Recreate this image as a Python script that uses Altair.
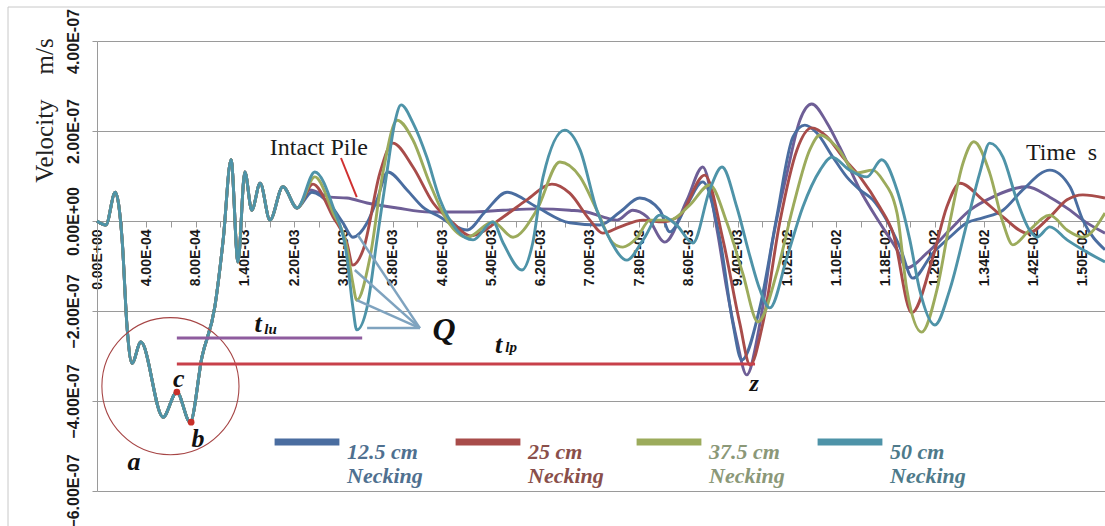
import json
import altair as alt
import pandas as pd

# ---------------- data ----------------
X_LABELS = ["0.00E+00", "4.00E-04", "8.00E-04", "1.40E-03", "2.20E-03", "3.00E-03",
            "3.80E-03", "4.60E-03", "5.40E-03", "6.20E-03", "7.00E-03", "7.80E-03",
            "8.60E-03", "9.40E-03", "1.02E-02", "1.10E-02", "1.18E-02", "1.26E-02",
            "1.34E-02", "1.42E-02", "1.50E-02"]
Y_TICKS = [-6e-7, -4e-7, -2e-7, 0.0, 2e-7, 4e-7]
SERIES = ["Intact Pile", "12.5 cm", "25 cm", "37.5 cm", "50 cm"]
LEGEND_SERIES = ["12.5 cm", "25 cm", "37.5 cm", "50 cm"]
UNIT = 1e-7  # velocity values below are in units of 1e-7 m/s

# x = position along the time (category) axis, label index units
common_t = [0, 0.18, 0.37, 0.51, 0.61, 0.71, 0.89, 1.34, 1.62, 1.89, 2.13, 2.39, 2.56,
            2.72, 2.86, 3.00, 3.14, 3.31, 3.51, 3.77, 4.06]
common_v = [0.0, -0.09, 0.64, -0.42, -2.36, -3.16, -2.69, -4.36, -3.80, -4.47, -3.02,
            -1.91, -0.42, 1.36, -0.91, 1.09, 0.24, 0.84, 0.02, 0.76, 0.29]

intact_t = [4.32, 4.73, 5.07, 5.48, 6.09, 6.75, 7.57, 8.24, 8.92, 9.59, 9.94, 10.26,
            10.55, 10.87, 11.16, 11.52, 11.97, 12.29, 12.58, 12.78, 12.98, 13.18, 13.45,
            13.71, 14.00, 14.26, 14.50, 14.81, 15.07, 15.48, 15.88, 16.23, 16.43, 16.84,
            17.30, 17.71, 18.17, 18.86, 19.33, 19.74, 20.00, 20.45]
intact_v = [0.69, 0.53, 0.51, 0.40, 0.29, 0.20, 0.20, 0.24, 0.27, 0.24, 0.20, 0.09,
            0.02, 0.24, 0.09, -0.47, 0.47, 1.20, -0.20, -1.53, -2.64, -3.42, -2.27,
            -0.42, 1.07, 2.24, 2.60, 2.18, 1.64, 0.69, -0.04, -0.64, -1.04, -0.71,
            -0.20, 0.24, 0.53, 0.76, 0.53, 0.24, 0.02, -0.27]

n125_t = [4.36, 4.73, 4.99, 5.19, 5.48, 5.68, 5.90, 6.29, 6.61, 6.96, 7.22, 7.51, 7.87,
          8.32, 8.92, 9.59, 10.20, 10.61, 11.01, 11.42, 11.62, 11.97, 12.29, 12.64,
          12.90, 13.08, 13.45, 13.79, 14.12, 14.36, 14.60, 14.93, 15.21, 15.48, 15.74,
          16.02, 16.29, 16.55, 16.96, 17.30, 17.65, 17.97, 18.38, 18.78, 19.33, 19.74,
          20.00, 20.45]
n125_v = [0.64, 0.36, -0.04, -0.36, -0.04, 0.47, 1.09, 0.69, 0.31, 0.09, -0.09, -0.20,
          0.20, 0.64, 0.31, -0.04, -0.09, 0.20, 0.51, 0.24, -0.24, 0.36, 0.87, -0.42,
          -2.27, -3.09, -1.91, 0.09, 1.87, 2.13, 1.96, 1.42, 0.98, 0.69, 0.47, 0.02,
          -0.58, -1.27, -0.71, -0.36, -0.04, 0.07, 0.24, 0.69, 1.13, 0.76, 0.02, -0.64]

n25_t = [4.38, 4.79, 5.07, 5.19, 5.40, 5.74, 6.00, 6.41, 6.82, 7.22, 7.57, 8.24, 8.72,
         9.23, 9.59, 10.00, 10.26, 10.61, 11.08, 11.48, 11.83, 12.33, 12.70, 13.04,
         13.25, 13.51, 13.85, 14.20, 14.50, 14.81, 15.13, 15.48, 15.88, 16.15, 16.53,
         16.96, 17.24, 17.51, 17.97, 18.38, 18.88, 19.33, 19.68, 20.00, 20.45]
n25_v = [0.82, 0.09, -0.49, -0.98, -0.64, 1.07, 1.73, 1.20, 0.40, -0.04, -0.33, 0.09,
         0.47, 0.82, 0.62, 0.02, -0.27, -0.13, 0.02, -0.02, 0.13, 1.02, -0.42, -2.27,
         -3.20, -2.27, -0.04, 1.58, 2.07, 1.87, 1.42, 0.98, 0.31, -0.27, -2.04, -0.80,
         0.31, 0.84, 0.47, 0.09, -0.27, 0.09, 0.47, 0.58, 0.51]

n375_t = [4.42, 4.79, 5.07, 5.19, 5.27, 5.54, 5.80, 6.09, 6.41, 6.75, 7.10, 7.51, 8.03,
          8.44, 8.92, 9.39, 9.80, 10.14, 10.47, 10.67, 10.95, 11.22, 11.62, 12.03,
          12.43, 12.78, 13.10, 13.41, 13.79, 14.12, 14.46, 14.67, 15.01, 15.42, 15.74,
          15.94, 16.23, 16.43, 16.73, 17.04, 17.30, 17.57, 17.79, 18.11, 18.38, 18.58,
          18.92, 19.33, 19.68, 20.00, 20.45]
n375_v = [0.98, 0.18, -0.58, -1.38, -1.76, -0.80, 1.07, 2.24, 1.80, 0.84, 0.02, -0.36,
          -0.02, -0.36, 0.24, 1.31, 0.98, 0.24, -0.49, -0.58, -0.38, 0.02, 0.02, 0.36,
          0.80, -0.04, -1.16, -2.24, -1.16, 0.31, 1.58, 1.91, 1.64, 1.07, 1.13, 0.91,
          0.18, -1.53, -2.47, -1.53, -0.04, 1.29, 1.76, 1.07, -0.04, -0.53, -0.20, 0.13,
          -0.20, -0.36, 0.18]

n50_t = [4.42, 4.79, 5.07, 5.19, 5.27, 5.48, 5.68, 5.88, 6.04, 6.17, 6.41, 6.69, 6.96,
         7.30, 7.63, 8.03, 8.24, 8.62, 8.84, 9.05, 9.49, 9.80, 10.14, 10.41, 10.75,
         11.08, 11.42, 11.76, 12.09, 12.43, 12.68, 12.98, 13.25, 13.45, 13.65, 14.00,
         14.32, 14.67, 14.91, 15.27, 15.62, 15.92, 16.23, 16.49, 16.69, 17.00, 17.30,
         17.65, 17.91, 18.11, 18.38, 18.66, 18.92, 19.07, 19.33, 19.68, 20.00, 20.45]
n50_v = [1.09, 0.31, -0.80, -1.91, -2.42, -1.91, -0.42, 1.07, 2.18, 2.58, 2.18, 1.42,
         0.47, -0.20, -0.42, -0.02, -0.49, -1.09, -0.49, 0.98, 2.02, 1.58, 0.24, -0.42,
         -0.87, -0.42, 0.13, -0.09, -0.49, 0.69, 1.20, 0.31, -0.80, -1.53, -1.93, -0.80,
         0.31, 1.13, 1.42, 1.13, 0.98, 1.36, 0.69, -0.42, -1.53, -2.31, -1.53, -0.04,
         1.07, 1.73, 1.42, 0.47, -0.20, -0.36, -0.13, -0.42, -0.64, -0.91]

# annotations (data coordinates)
abc_text = ["a", "b", "c"]
abc_t = [0.75, 2.05, 1.66]
abc_v = [-5.53, -5.02, -3.69]
cb_dot_t = [1.62, 1.91]
cb_dot_v = [-3.80, -4.47]
circle_t = [1.49]
circle_v = [-3.67]
z_t, z_v = [13.33], [-3.78]
q_t, q_v = [7.04], [-2.64]
t_text_t = [3.27, 8.15]
t_text_v = [-2.47, -2.93]
sub_text = ["lu", "lp"]
sub_t = [3.52, 8.40]
sub_v = [-2.51, -2.91]
tlu_t, tlu_t2, tlu_v = [1.62], [5.38], [-2.60]
tlp_t, tlp_t2, tlp_v = [1.62], [13.35], [-3.18]
qline_t = [5.29, 5.23, 5.27, 5.48]
qline_v = [-0.31, -1.09, -1.76, -2.38]
qanchor_t, qanchor_v = 6.55, -2.38
intact_label_t, intact_label_v = [4.50], [1.47]
arrow_t, arrow_v, arrow_t2, arrow_v2 = [4.95], [1.40], [5.27], [0.53]
time_label_t, time_label_v = [19.57], [1.36]

# ---------------- styles ----------------
COLORS = ["#6e5e96", "#4a6da0", "#a84c4a", "#9cab5c", "#4e93a8"]
LABEL_COLORS = ["#4f7090", "#8a4f4a", "#8b9878", "#4e7a8a"]
SERIF = "Liberation Serif"
SANS = "Liberation Sans"

# ---------------- tables ----------------
rows = []
for name, ts, vs in zip(SERIES, [intact_t, n125_t, n25_t, n375_t, n50_t],
                        [intact_v, n125_v, n25_v, n375_v, n50_v]):
    for k, (t, v) in enumerate(zip(common_t + ts, common_v + vs)):
        rows.append({"series": name, "t": t, "v": v * UNIT, "k": k})
df = pd.DataFrame(rows)

xscale = alt.Scale(domain=[0, 20.45], nice=False, zero=False)
yscale = alt.Scale(domain=[-6e-7, 4e-7], nice=False, zero=False)

label_arr = json.dumps(X_LABELS)
x_axis = alt.Axis(
    values=[i * 0.5 for i in range(41)],
    labelExpr=f"{label_arr}[datum.value] || ''",
    labelAngle=-90, labelFont=SANS, labelFontWeight="bold", labelFontSize=14,
    labelColor="#1a1a1a", labelPadding=2, labelOverlap=False, labelFlush=False,
    tickSize=6, tickColor="#9a9a9a", domainColor="#9a9a9a", grid=False,
    offset=-270, title=None,
)
y_axis = alt.Axis(
    values=Y_TICKS,
    labelExpr="datum.value == 0 ? '0.00E+00' : format(datum.value * 1e7, '.2f') + 'E-07'",
    labelAngle=-90, labelAlign="center", labelBaseline="bottom",
    labelFont=SANS, labelFontWeight="bold", labelFontSize=16, labelColor="#1a1a1a",
    labelPadding=11, tickSize=5, tickColor="#9a9a9a", domainColor="#9a9a9a",
    gridColor="#9a9a9a", labelOverlap=False, labelFlush=False,
    title="Velocity\u00a0\u00a0\u00a0\u00a0m/s", titleFont=SERIF, titleFontSize=25,
    titleFontWeight="normal", titleColor="#222222", titleAngle=-90,
    titleX=-53, titleY=69, titleAlign="center", titleBaseline="middle",
)

color_expr = " : ".join(
    f"datum.value == '{n}' ? '{c}'" for n, c in zip(LEGEND_SERIES[:-1], LABEL_COLORS[:-1])
) + f" : '{LABEL_COLORS[-1]}'"

legend = alt.Legend(
    orient="none", legendX=174, legendY=365, direction="horizontal", columns=4,
    values=LEGEND_SERIES, title=None, symbolType="stroke", symbolSize=4200,
    symbolStrokeWidth=7, labelFont=SERIF, labelFontSize=22, labelFontStyle="italic",
    labelFontWeight="bold", labelColor=alt.ExprRef(color_expr),
    labelExpr="[datum.label, 'Necking']", labelBaseline="top", labelLimit=300,
    columnPadding=18, labelOffset=4,
)


def X(f="t"):
    return alt.X(f"{f}:Q", scale=xscale, axis=x_axis)


def Y(f="v"):
    return alt.Y(f"{f}:Q", scale=yscale, axis=y_axis)


lines = alt.Chart(df).mark_line(strokeWidth=2.9, interpolate="monotone").encode(
    x=X(), y=Y(),
    color=alt.Color("series:N", scale=alt.Scale(domain=SERIES, range=COLORS), legend=legend),
    order=alt.Order("k:Q"),
)


def pts(t, v, **extra):
    d = {"t": t, "v": [x * UNIT for x in v]}
    d.update(extra)
    return pd.DataFrame(d)


frame = alt.Chart(pd.DataFrame({"a": [0]})).mark_rect(
    fillOpacity=0, stroke="#c8c8c8", strokeWidth=1
).encode(x=alt.value(-89), x2=alt.value(1040), y=alt.value(-34), y2=alt.value(520))

circle = alt.Chart(pts(circle_t, circle_v)).mark_point(
    shape="circle", size=18800, color="#a64545", strokeWidth=1.1, opacity=1, filled=False
).encode(x=X(), y=Y())

tlu = alt.Chart(pts(tlu_t, tlu_v, t2=tlu_t2)).mark_rule(color="#8e5c9e", strokeWidth=3).encode(
    x=X(), x2="t2:Q", y=Y())
tlp = alt.Chart(pts(tlp_t, tlp_v, t2=tlp_t2)).mark_rule(color="#c8404a", strokeWidth=3).encode(
    x=X(), x2="t2:Q", y=Y())

qlines = alt.Chart(pts(qline_t, qline_v, t2=[qanchor_t] * 4, v2=[qanchor_v * UNIT] * 4)).mark_rule(
    color="#7fa3bf", strokeWidth=2.5).encode(x=X(), y=Y(), x2="t2:Q", y2="v2:Q")

arrow = alt.Chart(pts(arrow_t, arrow_v, t2=arrow_t2, v2=[x * UNIT for x in arrow_v2])).mark_rule(
    color="#d03030", strokeWidth=2).encode(x=X(), y=Y(), x2="t2:Q", y2="v2:Q")

dots = alt.Chart(pts(cb_dot_t, cb_dot_v)).mark_point(
    filled=True, size=45, color="#c8302a", opacity=1).encode(x=X(), y=Y())

letter_style = dict(font=SERIF, fontStyle="italic", fontWeight="bold", color="#111111",
                    align="center", baseline="alphabetic")
abc = alt.Chart(pts(abc_t, abc_v, label=abc_text)).mark_text(fontSize=26, **letter_style).encode(
    x=X(), y=Y(), text="label:N")
zlab = alt.Chart(pts(z_t, z_v, label=["z"])).mark_text(fontSize=24, **letter_style).encode(
    x=X(), y=Y(), text="label:N")
qlab = alt.Chart(pts(q_t, q_v, label=["Q"])).mark_text(fontSize=32, **letter_style).encode(
    x=X(), y=Y(), text="label:N")
tlab = alt.Chart(pts(t_text_t, t_text_v, label=["t", "t"])).mark_text(fontSize=26, **letter_style).encode(
    x=X(), y=Y(), text="label:N")
sublab = alt.Chart(pts(sub_t, sub_v, label=sub_text)).mark_text(fontSize=15, **letter_style).encode(
    x=X(), y=Y(), text="label:N")

plain_style = dict(font=SERIF, fontSize=24, color="#1a1a1a", align="center", baseline="alphabetic")
intact_lab = alt.Chart(pts(intact_label_t, intact_label_v, label=["Intact Pile"])).mark_text(
    **plain_style).encode(x=X(), y=Y(), text="label:N")
time_lab = alt.Chart(pts(time_label_t, time_label_v, label=["Time\u00a0\u00a0s"])).mark_text(
    **plain_style).encode(x=X(), y=Y(), text="label:N")

chart = alt.layer(
    lines, frame, circle, tlu, tlp, qlines, arrow, dots, abc, zlab, qlab, tlab, sublab,
    intact_lab, time_lab,
).properties(
    width=1008, height=450,
    autosize=alt.AutoSizeParams(type="none"),
    padding={"left": 97, "top": 41, "right": 0, "bottom": 35},
    background="white",
).configure_view(strokeWidth=0)

chart.save("out.html", embed_options={"renderer": "svg", "actions": False})
